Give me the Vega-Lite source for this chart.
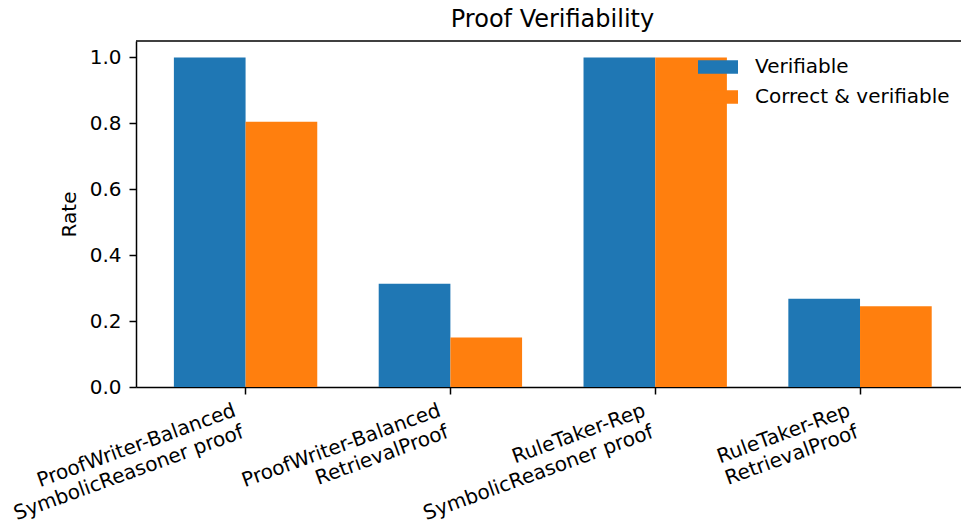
{
  "$schema": "https://vega.github.io/schema/vega-lite/v6.json",
  "width": 825,
  "height": 346,
  "autosize": {"type": "none"},
  "padding": {"left": 136, "top": 41, "right": 0, "bottom": 133},
  "background": "white",
  "config": {
    "view": {"stroke": null},
    "font": "DejaVu Sans",
    "axis": {
      "domainColor": "black", "domainWidth": 1.5,
      "tickColor": "black", "tickWidth": 1.5, "tickSize": 7,
      "labelFont": "DejaVu Sans", "labelFontSize": 20, "labelColor": "black",
      "titleFont": "DejaVu Sans", "titleFontSize": 20, "titleFontWeight": "normal", "titleColor": "black",
      "grid": false
    }
  },
  "title": {
    "text": "Proof Verifiability",
    "font": "DejaVu Sans", "fontSize": 24, "fontWeight": "normal", "color": "black",
    "anchor": "middle", "frame": "group", "baseline": "alphabetic", "offset": -10.5, "dx": 4
  },
  "data": {
    "values": [
      {"group": "ProofWriter-Balanced\nSymbolicReasoner proof", "series": "Verifiable", "rate": 1.0},
      {"group": "ProofWriter-Balanced\nSymbolicReasoner proof", "series": "Correct & verifiable", "rate": 0.805},
      {"group": "ProofWriter-Balanced\nRetrievalProof", "series": "Verifiable", "rate": 0.313},
      {"group": "ProofWriter-Balanced\nRetrievalProof", "series": "Correct & verifiable", "rate": 0.15},
      {"group": "RuleTaker-Rep\nSymbolicReasoner proof", "series": "Verifiable", "rate": 1.0},
      {"group": "RuleTaker-Rep\nSymbolicReasoner proof", "series": "Correct & verifiable", "rate": 1.0},
      {"group": "RuleTaker-Rep\nRetrievalProof", "series": "Verifiable", "rate": 0.268},
      {"group": "RuleTaker-Rep\nRetrievalProof", "series": "Correct & verifiable", "rate": 0.245}
    ]
  },
  "layer": [
    {
      "mark": {"type": "bar"},
      "encoding": {
        "x": {
          "field": "group", "type": "nominal", "sort": null,
          "scale": {"paddingInner": 0.3, "paddingOuter": 0.164, "align": 0.564},
          "axis": {
            "title": null, "labelAngle": -20, "labelAlign": "right", "labelBaseline": "top",
            "labelOffset": -14, "labelPadding": 6, "labelLineHeight": 23,
            "labelExpr": "split(datum.label, '\\n')",
            "labelLimit": 500, "labelOverlap": false, "labelBound": false, "labelFlush": false
          }
        },
        "xOffset": {
          "field": "series", "type": "nominal",
          "sort": ["Verifiable", "Correct & verifiable"],
          "scale": {"paddingInner": 0, "paddingOuter": 0}
        },
        "y": {
          "field": "rate", "type": "quantitative",
          "scale": {"domain": [0, 1.05], "nice": false, "zero": true},
          "axis": {"title": "Rate", "values": [0, 0.2, 0.4, 0.6, 0.8, 1.0], "format": ".1f", "labelPadding": 8, "titlePadding": 10}
        },
        "color": {
          "field": "series", "type": "nominal",
          "sort": ["Verifiable", "Correct & verifiable"],
          "scale": {"domain": ["Verifiable", "Correct & verifiable"], "range": ["#1f77b4", "#ff7f0e"]},
          "legend": {
            "orient": "none", "legendX": 562, "legendY": 6, "title": null,
            "symbolType": "M-1,-0.335H1V0.335H-1Z", "symbolSize": 1600, "symbolStrokeWidth": 0,
            "labelFont": "DejaVu Sans", "labelFontSize": 20, "labelColor": "black",
            "labelOffset": 17, "padding": 0, "rowPadding": -1.3, "labelLimit": 400
          }
        }
      }
    },
    {
      "data": {"values": [{}]},
      "mark": {"type": "rule", "color": "black", "strokeWidth": 1.5},
      "encoding": {"y": {"datum": 1.05}}
    }
  ]
}
